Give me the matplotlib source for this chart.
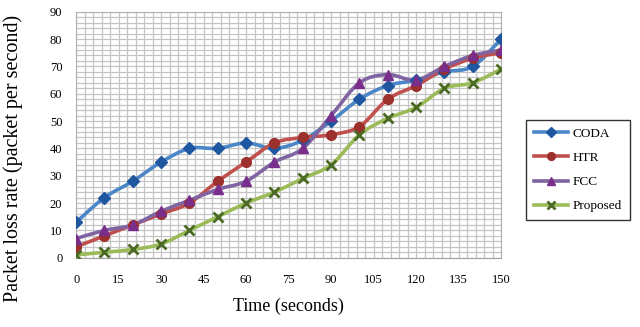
import numpy as np
import matplotlib
matplotlib.use("Agg")
import matplotlib.pyplot as plt
from matplotlib.path import Path
from matplotlib.patches import PathPatch
from matplotlib.lines import Line2D
from matplotlib.ticker import MultipleLocator

plt.rcParams['font.family'] = ['Liberation Serif', 'DejaVu Serif']

time_s = [0, 10, 20, 30, 40, 50, 60, 70, 80, 90, 100, 110, 120, 130, 140, 150]
coda = [13, 22, 28, 35, 40, 40, 42, 40, 43, 50, 58, 63, 65, 68, 70, 80]
htr = [4, 8, 12, 16, 20, 28, 35, 42, 44, 45, 48, 58, 63, 69, 73, 75]
fcc = [7, 10, 12, 17, 21, 25, 28, 35, 40, 52, 64, 67, 65, 70, 74, 76]
proposed = [1, 2, 3, 5, 10, 15, 20, 24, 29, 34, 45, 51, 55, 62, 64, 69]

series = [
    ("CODA", coda, '#4a86c8', '#1f56a0', 'D', 6.5),
    ("HTR", htr, '#c0504d', '#9c302c', 'o', 7),
    ("FCC", fcc, '#8064a2', '#7a2e8c', '^', 7),
    ("Proposed", proposed, '#9bbb59', '#4b6a24', 'x', 7),
]


def smooth_path(xs, ys):
    # catmull-rom style bezier, like excel's smoothed line
    pts = np.column_stack([xs, ys]).astype(float)
    n = len(pts)
    verts = [pts[0]]
    codes = [Path.MOVETO]
    for i in range(n - 1):
        p0 = pts[max(i - 1, 0)]
        p1 = pts[i]
        p2 = pts[i + 1]
        p3 = pts[min(i + 2, n - 1)]
        c1 = p1 + (p2 - p0) / 6.0
        c2 = p2 - (p3 - p1) / 6.0
        verts += [c1, c2, p2]
        codes += [Path.CURVE4] * 3
    return Path(verts, codes)


fig = plt.figure(figsize=(6.4, 3.27), dpi=100)
ax = fig.add_axes([0.119, 0.212, 0.664, 0.752])

handles = []
for name, vals, lc, mc, mk, ms in series:
    patch = PathPatch(smooth_path(time_s, vals), facecolor='none', edgecolor=lc,
                      lw=2.6, zorder=3, capstyle='round', joinstyle='round')
    ax.add_patch(patch)
    mew = 2.0 if mk == 'x' else 1.0
    ax.plot(time_s, vals, linestyle='none', marker=mk, markersize=ms,
            markerfacecolor=mc, markeredgecolor=mc, markeredgewidth=mew, zorder=4)
    handles.append(Line2D([], [], color=lc, lw=2.6, marker=mk,
                          markersize=ms * 0.8, markerfacecolor=mc,
                          markeredgecolor=mc, markeredgewidth=mew, label=name))

ax.set_xlim(0, 150)
ax.set_ylim(0, 90)
ax.xaxis.set_major_locator(MultipleLocator(15))
ax.xaxis.set_minor_locator(MultipleLocator(3))
ax.yaxis.set_major_locator(MultipleLocator(10))
ax.yaxis.set_minor_locator(MultipleLocator(2))
ax.grid(which='both', color='#c4c4c4', lw=0.9)
ax.set_axisbelow(True)
ax.tick_params(which='both', length=0)
ax.tick_params(axis='x', pad=12, labelsize=9)
ax.tick_params(axis='y', pad=10, labelsize=9)
for sp in ax.spines.values():
    sp.set_color('#b0b0b0')
ax.spines['bottom'].set_color('#a0a0a0')

ax.set_xlabel("Time (seconds)", fontsize=13, labelpad=8)
ax.set_ylabel("Packet loss rate (packet per second)", fontsize=14.5)
ax.yaxis.set_label_coords(-0.125, 0.405)

leg = fig.legend(handles=handles, loc='center', bbox_to_anchor=(0.903, 0.48),
                 fontsize=9.5, frameon=True, fancybox=False, handlelength=2.6,
                 labelspacing=0.9, borderpad=0.6, handletextpad=0.3)
leg.get_frame().set_edgecolor('black')
leg.get_frame().set_linewidth(1.0)

fig.savefig("out.png", dpi=100)
